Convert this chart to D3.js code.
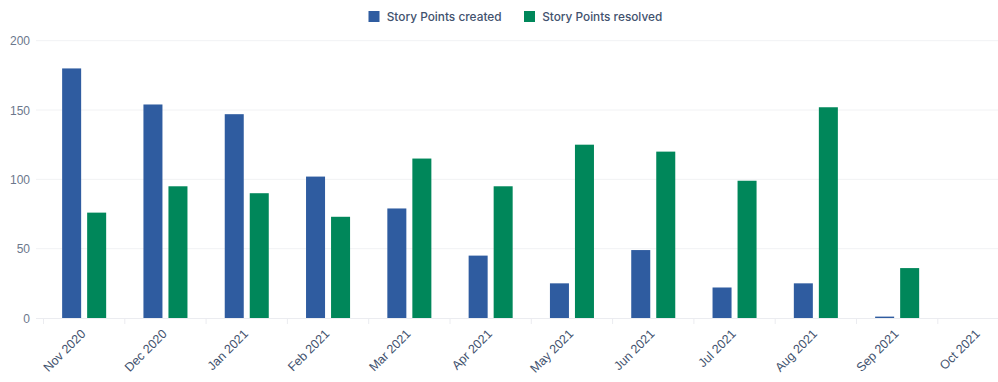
<!DOCTYPE html>
<html><head><meta charset="utf-8">
<script src="https://cdn.jsdelivr.net/npm/d3@7"></script>
<style>
body{margin:0;background:#fff;overflow:hidden}
svg{display:block;font-family:Inter,"Noto Sans",sans-serif}
</style></head>
<body><svg id="c" width="998" height="382"></svg>
<script>
const months = ["Nov 2020","Dec 2020","Jan 2021","Feb 2021","Mar 2021","Apr 2021","May 2021","Jun 2021","Jul 2021","Aug 2021","Sep 2021","Oct 2021"];
const seriesNames = ["Story Points created","Story Points resolved"];
const created  = [180,154,147,102,79,45,25,49,22,25,1,0];
const resolved = [76,95,90,73,115,95,125,120,99,152,36,0];
const yTicks = [0,50,100,150,200];
const colors = ["#2f5ca0","#00875a"];

const svg = d3.select("#c");
const x0 = d3.scaleBand().domain(months).range([43.5, 1019.1]).paddingInner(0).paddingOuter(0);
const x1 = d3.scaleBand().domain(seriesNames).range([0, x0.bandwidth()]).paddingInner(0.24).paddingOuter(0.745);
const y = d3.scaleLinear().domain([0,200]).range([318, 40.7]);

// gridlines
svg.append("g").selectAll("line").data(yTicks.slice(1)).join("line")
  .attr("x1",36).attr("x2",998).attr("y1",d=>y(d)).attr("y2",d=>y(d))
  .attr("stroke","#f1f2f4").attr("stroke-width",1);

// y axis labels
const yAxis = d3.axisLeft(y).tickValues(yTicks).tickSize(0).tickPadding(0);
const yg = svg.append("g").attr("transform","translate(30,0)").call(yAxis);
yg.select(".domain").remove();
yg.selectAll("text").attr("fill","#6b778c").attr("font-size","12px").attr("dy","0.35em");

// bars
const data = months.map((m,i)=>({m, vals:[created[i],resolved[i]]}));
const grp = svg.append("g").selectAll("g").data(data).join("g")
  .attr("transform",d=>`translate(${x0(d.m)},0)`);
grp.selectAll("rect").data(d=>d.vals.map((v,j)=>({s:seriesNames[j],v,j}))).join("rect")
  .attr("x",d=>x1(d.s)).attr("width",x1.bandwidth())
  .attr("y",d=>y(d.v)).attr("height",d=>y(0)-y(d.v))
  .attr("fill",d=>colors[d.j]);

// x axis
const xAxis = d3.axisBottom(x0).tickSize(0).tickPadding(0);
const xg = svg.append("g").attr("transform","translate(0,318.5)").call(xAxis);
xg.select(".domain").remove();
svg.append("line").attr("x1",36).attr("x2",998).attr("y1",318.5).attr("y2",318.5).attr("stroke","#ebecf0");
svg.append("g").selectAll("line").data(months).join("line")
  .attr("x1",d=>x0(d)).attr("x2",d=>x0(d)).attr("y1",318.5).attr("y2",324)
  .attr("stroke","#ebecf0");
xg.selectAll("text")
  .attr("fill","#42526e").attr("font-size","12.5px").attr("font-weight",500)
  .attr("text-anchor","end")
  .attr("transform","translate(-4,10) rotate(-45)")
  .attr("dy","0.7em").attr("dx","0");

// legend
const leg = svg.append("g").attr("transform","translate(368.5,11)");
const items = [{n:seriesNames[0],c:colors[0],x:0,w:115},{n:seriesNames[1],c:colors[1],x:155.5,w:120}];
const li = leg.selectAll("g").data(items).join("g").attr("transform",d=>`translate(${d.x},0)`);
li.append("rect").attr("width",11).attr("height",11).attr("fill",d=>d.c);
li.append("text").attr("x",18.2).attr("y",5.5).attr("dy","0.35em")
  .attr("font-size","12.5px").attr("font-weight",500).attr("fill","#42526e").text(d=>d.n)
  .each(function(d){const L=this.getComputedTextLength(); d3.select(this).attr("font-size",(12.5*d.w/L).toFixed(2)+"px");});
</script></body></html>
